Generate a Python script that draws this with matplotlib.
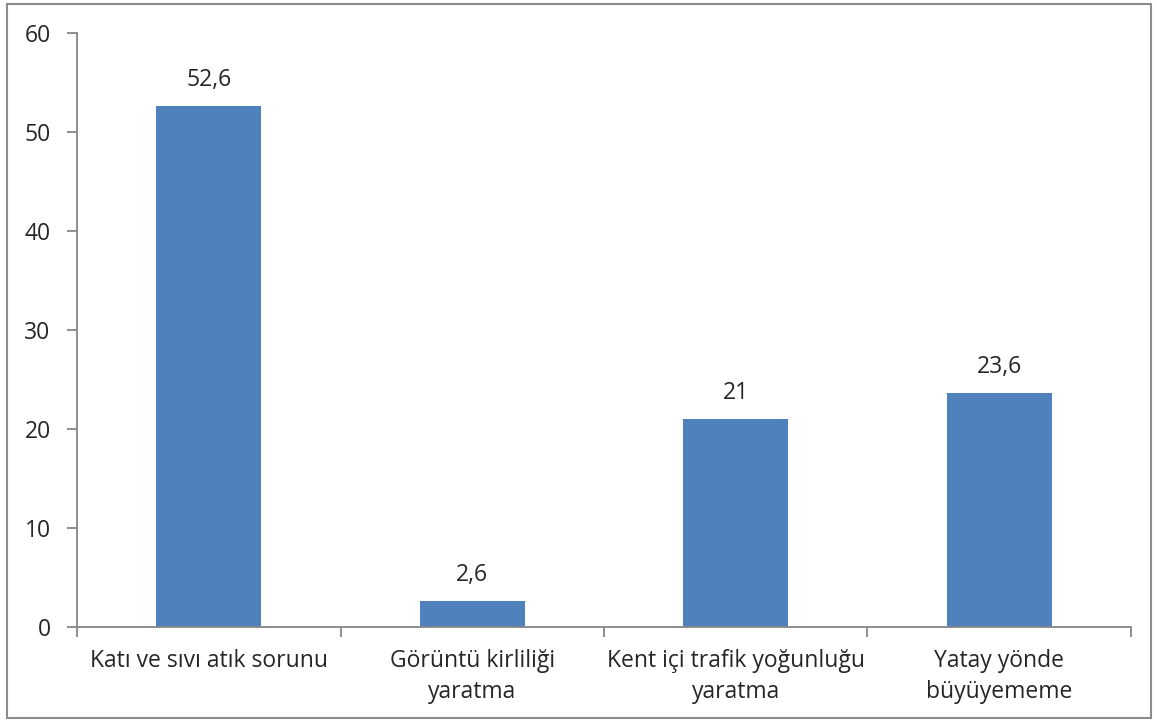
import matplotlib.pyplot as plt
from matplotlib.patches import Rectangle
from matplotlib.ticker import FixedLocator

# data
categories = [
    "Katı ve sıvı atık sorunu",
    "Görüntü kirliliği\nyaratma",
    "Kent içi trafik yoğunluğu\nyaratma",
    "Yatay yönde\nbüyüyememe",
]
values = [52.6, 2.6, 21, 23.6]
value_labels = ["52,6", "2,6", "21", "23,6"]
y_ticks = [0, 10, 20, 30, 40, 50, 60]

BAR_COLOR = "#4F81BD"
AXIS_COLOR = "#868686"
TEXT_COLOR = "#262626"
FS = 16.5

plt.rcParams["font.family"] = ["Open Sans", "DejaVu Sans"]

fig = plt.figure(figsize=(11.57, 7.25), dpi=100)
ax = fig.add_axes([0.0666, 0.1352, 0.9109, 0.8193])

# outer chart border
fig.patches.append(Rectangle((0.006, 0.0097), 0.9888, 0.9848, transform=fig.transFigure,
                             fill=False, edgecolor="#8c8c8c", linewidth=1.5))

x = list(range(len(categories)))
ax.bar(x, values, width=0.4, color=BAR_COLOR, zorder=2)

for xi, v, lab in zip(x, values, value_labels):
    ax.annotate(lab, (xi, v), xytext=(0, 10), textcoords="offset points",
                ha="center", va="bottom", fontsize=FS, color=TEXT_COLOR)

ax.set_xlim(-0.5, len(categories) - 0.5)
ax.set_ylim(0, 60)
ax.set_yticks(y_ticks)
ax.set_xticks(x)
ax.set_xticklabels(categories, fontsize=FS, color=TEXT_COLOR, linespacing=1.35)
ax.xaxis.set_minor_locator(FixedLocator([i - 0.5 for i in range(len(categories) + 1)]))
ax.tick_params(axis="x", which="major", length=0, pad=16)
ax.tick_params(axis="x", which="minor", length=7, width=1.3, color=AXIS_COLOR, direction="out")
ax.tick_params(axis="y", length=7, width=1.3, color=AXIS_COLOR, direction="out",
               labelsize=FS, labelcolor=TEXT_COLOR, pad=12)

for side in ["top", "right"]:
    ax.spines[side].set_visible(False)
for side in ["left", "bottom"]:
    ax.spines[side].set_color(AXIS_COLOR)
    ax.spines[side].set_linewidth(1.3)

fig.savefig("out.png", dpi=100)
